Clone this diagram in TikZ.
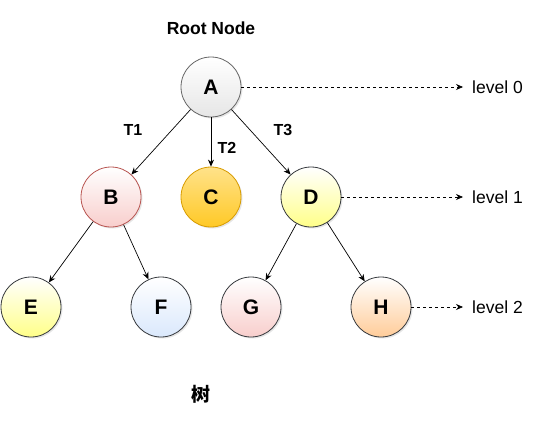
\documentclass[tikz,border=0pt]{standalone}
\usepackage{fontspec}
\setmainfont{Liberation Sans}
\newfontfamily\cjk{Noto Sans CJK SC}
\usetikzlibrary{arrows.meta, shadows}

\definecolor{grayline}{HTML}{666666}
\definecolor{darkline}{HTML}{36393D}
\definecolor{redline}{HTML}{B85450}
\definecolor{orangeline}{HTML}{D79B00}
\definecolor{redfill}{HTML}{F8CECC}
\definecolor{yellowfill}{HTML}{FFFF88}
\definecolor{bluefill}{HTML}{DAE8FC}
\definecolor{peachfill}{HTML}{FFCC99}
\definecolor{goldtop}{HTML}{FFE28A}
\definecolor{goldbottom}{HTML}{FFC926}
\definecolor{lightgrayfill}{HTML}{E6E6E6}

\tikzstyle{treenode} = [circle, minimum size=60pt, inner sep=0pt, draw=darkline, line width=0.8pt,
  font=\fontsize{21}{24}\selectfont\bfseries, top color=white,
  drop shadow={shadow xshift=1.5pt, shadow yshift=-1.5pt, opacity=0.2}]
\tikzstyle{edge} = [line width=0.7pt, -{Stealth[length=7pt,width=6pt]}]
\tikzstyle{levelarrow} = [line width=0.7pt, dashed, -{Stealth[length=7pt,width=6pt]}]
\tikzstyle{tlabel} = [font=\fontsize{16}{19}\selectfont\bfseries]
\tikzstyle{levellabel} = [anchor=west, inner sep=0pt, font=\fontsize{17.5}{20}\selectfont]

\begin{document}
\begin{tikzpicture}[x=1pt, y=-1pt]
\useasboundingbox (0,0) rectangle (535,420);

% Nodes
\node (A) [treenode, draw=grayline, bottom color=lightgrayfill] at (211,87) {A};
\node (B) [treenode, draw=redline, bottom color=redfill] at (111,197) {B};
\node (C) [treenode, draw=orangeline, top color=goldtop, bottom color=goldbottom] at (211,197) {C};
\node (D) [treenode, bottom color=yellowfill] at (311,197) {D};
\node (E) [treenode, bottom color=yellowfill] at (31,307) {E};
\node (F) [treenode, bottom color=bluefill] at (161,307) {F};
\node (G) [treenode, bottom color=redfill] at (251,307) {G};
\node (H) [treenode, bottom color=peachfill] at (381,307) {H};

% Level markers
\coordinate (L0) at (463,87);
\coordinate (L1) at (463,197);
\coordinate (L2) at (463,307);
\node (lev0) [levellabel] at (472,87) {level 0};
\node (lev1) [levellabel] at (472,197) {level 1};
\node (lev2) [levellabel] at (472,307) {level 2};

% Arrows
\draw [edge] (A) -- (B);
\draw [edge] (A) -- (C);
\draw [edge] (A) -- (D);
\draw [edge] (B) -- (E);
\draw [edge] (B) -- (F);
\draw [edge] (D) -- (G);
\draw [edge] (D) -- (H);
\draw [levelarrow] (A.east) -- (L0);
\draw [levelarrow] (D.east) -- (L1);
\draw [levelarrow] (H.east) -- (L2);

% Labels
\node (t1) [tlabel] at (133,130) {T1};
\node (t2) [tlabel] at (227,148) {T2};
\node (t3) [tlabel] at (283,130) {T3};
\node (root) [font=\fontsize{17.5}{20}\selectfont\bfseries] at (211,28) {Root Node};
\node (title) [font=\fontsize{19}{22}\selectfont\cjk\bfseries] at (201,394) {树};

\end{tikzpicture}
\end{document}
